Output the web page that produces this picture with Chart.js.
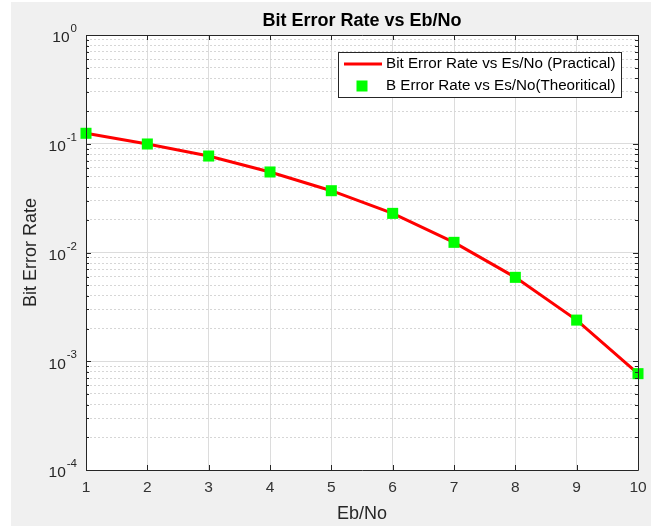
<!DOCTYPE html>
<html>
<head>
<meta charset="utf-8">
<script src="https://cdn.jsdelivr.net/npm/chart.js@4/dist/chart.umd.min.js"></script>
<style>
  html, body { margin: 0; padding: 0; background: #ffffff; }
  #wrap { width: 651px; height: 527px; }
</style>
</head>
<body>
<div id="wrap"><canvas id="berChart" width="651" height="527"></canvas></div>
<script>
  // values
  var EB_NO = [1, 2, 3, 4, 5, 6, 7, 8, 9, 10];
  var BER_PRACTICAL = [0.1248, 0.0995, 0.0771, 0.0550, 0.0370, 0.0229, 0.0124, 0.00591, 0.00239, 0.000769];
  var BER_THEORY = [0.1248, 0.0995, 0.0771, 0.0550, 0.0370, 0.0229, 0.0124, 0.00591, 0.00239, 0.000769];
  var X_TICKS = [1, 2, 3, 4, 5, 6, 7, 8, 9, 10];
  var Y_DECADES = [0, -1, -2, -3, -4];

  var FONT = "'Liberation Sans', Arial, Helvetica, sans-serif";
  var AXIS_DARK = "#262626";

  function toPoints(xs, ys) {
    return xs.map(function (x, i) { return { x: x, y: ys[i] }; });
  }

  // every 1..9 x 10^e value for the log grid
  function logGridValues() {
    var vals = [];
    for (var e = -4; e <= 0; e++) {
      for (var k = 1; k <= 9; k++) {
        var v = k * Math.pow(10, e);
        if (v <= 1.0000001) vals.push(v);
        if (e === 0) break;
      }
    }
    return vals;
  }

  function isDecade(v) {
    var l = Math.log10(v);
    return Math.abs(l - Math.round(l)) < 1e-6;
  }

  // grey figure background + white axes area
  var backdrop = {
    id: "backdrop",
    beforeDraw: function (chart) {
      var c = chart.ctx, a = chart.chartArea;
      c.save();
      c.fillStyle = "#f0f0f0";
      c.fillRect(11, 2, chart.width - 11, chart.height - 3);
      c.fillStyle = "#ffffff";
      c.fillRect(a.left, a.top, a.right - a.left, a.bottom - a.top);
      c.restore();
    }
  };

  // box, inward ticks, y labels with exponents, legend
  var matlabAxes = {
    id: "matlabAxes",
    afterDatasetsDraw: function (chart) {
      var c = chart.ctx, a = chart.chartArea;
      var xs = chart.scales.x, ys = chart.scales.y;
      c.save();
      c.strokeStyle = AXIS_DARK;
      c.lineWidth = 1;
      c.beginPath();
      c.rect(Math.round(a.left) + 0.5, Math.round(a.top) + 0.5,
             Math.round(a.right - a.left), Math.round(a.bottom - a.top));
      c.stroke();

      c.beginPath();
      X_TICKS.forEach(function (t) {
        var px = Math.round(xs.getPixelForValue(t)) + 0.5;
        c.moveTo(px, a.bottom); c.lineTo(px, a.bottom - 5);
        c.moveTo(px, a.top); c.lineTo(px, a.top + 5);
      });
      logGridValues().forEach(function (v) {
        var py = Math.round(ys.getPixelForValue(v)) + 0.5;
        var len = isDecade(v) ? 5 : 3;
        c.moveTo(a.left, py); c.lineTo(a.left + len, py);
        c.moveTo(a.right, py); c.lineTo(a.right - len, py);
      });
      c.stroke();

      // y tick labels 10^e
      c.fillStyle = AXIS_DARK;
      c.textBaseline = "middle";
      c.textAlign = "right";
      Y_DECADES.forEach(function (e) {
        var py = ys.getPixelForValue(Math.pow(10, e));
        var expTxt = String(e);
        c.font = "11.5px " + FONT;
        var ew = c.measureText(expTxt).width;
        c.fillText(expTxt, a.left - 9, py - 6);
        c.font = "15.5px " + FONT;
        c.fillText("10", a.left - 10 - ew, py + 3);
      });
      c.restore();
    },
    afterDraw: function (chart) {
      var c = chart.ctx;
      var ds = chart.data.datasets;
      // legend box in the upper right of the axes
      var lx = 338, ly = 52, lw = 283, lh = 45;
      c.save();
      c.fillStyle = "#ffffff";
      c.fillRect(lx, ly, lw, lh);
      c.strokeStyle = AXIS_DARK;
      c.lineWidth = 1;
      c.strokeRect(lx + 0.5, ly + 0.5, lw, lh);
      c.strokeStyle = ds[1].borderColor;
      c.lineWidth = 3;
      c.beginPath();
      c.moveTo(lx + 6, ly + 12); c.lineTo(lx + 44, ly + 12);
      c.stroke();
      c.fillStyle = ds[0].backgroundColor;
      c.fillRect(lx + 24 - 5.5, ly + 34 - 5.5, 11, 11);
      c.fillStyle = "#000000";
      c.textAlign = "left";
      c.textBaseline = "middle";
      c.font = "15.2px " + FONT;
      c.fillText(ds[1].label, lx + 48, ly + 12);
      c.fillText(ds[0].label, lx + 48, ly + 34);
      c.restore();
    }
  };

  var ctx = document.getElementById("berChart").getContext("2d");
  new Chart(ctx, {
    type: "line",
    data: {
      datasets: [
        {
          label: "B Error Rate vs Es/No(Theoritical)",
          data: toPoints(EB_NO, BER_THEORY),
          showLine: false,
          pointStyle: "rect",
          pointRadius: 7.8,
          pointBorderWidth: 0,
          backgroundColor: "#00ff00",
          borderColor: "#00ff00",
          clip: false,
          order: 0
        },
        {
          label: "Bit Error Rate vs Es/No (Practical)",
          data: toPoints(EB_NO, BER_PRACTICAL),
          borderColor: "#ff0000",
          backgroundColor: "#ff0000",
          borderWidth: 3,
          pointRadius: 0,
          tension: 0,
          clip: false,
          order: 1
        }
      ]
    },
    options: {
      responsive: false,
      animation: false,
      events: [],
      layout: { padding: { left: 0, right: 13, top: 0, bottom: 0 } },
      plugins: {
        legend: { display: false },
        tooltip: { enabled: false },
        title: {
          display: true,
          fullSize: false,
          text: "Bit Error Rate vs Eb/No",
          color: "#000000",
          font: { family: FONT, size: 18, weight: "bold" },
          padding: { top: 10, bottom: 3.4 }
        }
      },
      scales: {
        x: {
          type: "linear",
          min: 1,
          max: 10,
          afterBuildTicks: function (scale) {
            scale.ticks = X_TICKS.map(function (v) { return { value: v }; });
          },
          afterFit: function (scale) {
            scale.height = 57;
            scale.paddingLeft = 0;
            scale.paddingRight = 0;
          },
          ticks: {
            color: "#333333",
            padding: 8,
            maxRotation: 0,
            autoSkip: false,
            font: { family: FONT, size: 15.5 }
          },
          grid: { color: "#dcdcdc", lineWidth: 1, drawTicks: false },
          border: { display: false },
          title: {
            display: true,
            text: "Eb/No",
            color: AXIS_DARK,
            font: { family: FONT, size: 18 },
            padding: { top: 0, bottom: 2.5 }
          }
        },
        y: {
          type: "logarithmic",
          min: 0.0001,
          max: 1,
          afterBuildTicks: function (scale) {
            scale.ticks = logGridValues().map(function (v) { return { value: v }; });
          },
          afterFit: function (scale) {
            scale.width = 86;
            scale.paddingTop = 0;
            scale.paddingBottom = 0;
          },
          ticks: { display: false, autoSkip: false },
          grid: {
            drawTicks: false,
            lineWidth: 1,
            color: function (c) {
              if (!c.tick) return "#dcdcdc";
              return isDecade(c.tick.value) ? "#dcdcdc" : "#d6d6d6";
            }
          },
          border: {
            display: false,
            dash: function (c) {
              if (!c.tick) return [];
              return isDecade(c.tick.value) ? [] : [2, 2];
            }
          },
          title: {
            display: true,
            text: "Bit Error Rate",
            color: AXIS_DARK,
            font: { family: FONT, size: 18 },
            padding: { top: 20.5, bottom: 0 }
          }
        }
      }
    },
    plugins: [backdrop, matlabAxes]
  });
</script>
</body>
</html>
